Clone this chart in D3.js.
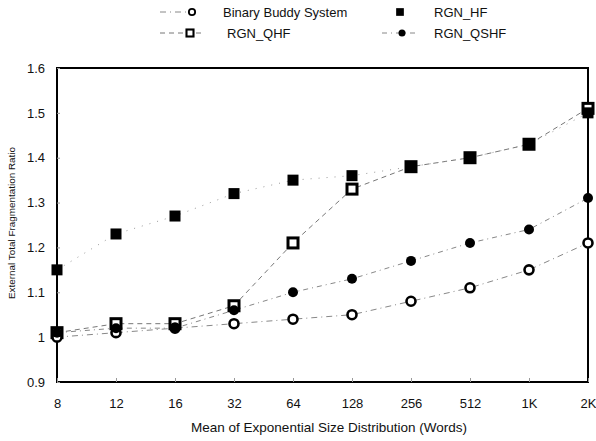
<!DOCTYPE html>
<html>
<head>
<meta charset="utf-8">
<script src="https://cdn.jsdelivr.net/npm/d3@7"></script>
<style>
  body { margin: 0; background: #fff; }
  text { font-family: "Liberation Sans", Arial, sans-serif; fill: #111; }
</style>
</head>
<body>
<div id="chart"></div>
<script>
"use strict";
// chart data
const sizes = ["8", "12", "16", "32", "64", "128", "256", "512", "1K", "2K"];
const yTicks = [0.9, 1, 1.1, 1.2, 1.3, 1.4, 1.5, 1.6];
const buddy = [1.00, 1.01, 1.02, 1.03, 1.04, 1.05, 1.08, 1.11, 1.15, 1.21];
const rgnHF = [1.15, 1.23, 1.27, 1.32, 1.35, 1.36, 1.38, 1.40, 1.43, 1.50];
const rgnQHF = [1.01, 1.03, 1.03, 1.07, 1.21, 1.33, 1.38, 1.40, 1.43, 1.51];
const rgnQSHF = [1.01, 1.02, 1.02, 1.06, 1.10, 1.13, 1.17, 1.21, 1.24, 1.31];

const W = 596, H = 441;
const m = {left: 57, right: 8, top: 68, bottom: 59};

var svg = d3.select("#chart").append("svg")
  .attr("width", W).attr("height", H);

var x = d3.scalePoint().domain(sizes).range([m.left, W - m.right]);
var y = d3.scaleLinear().domain([0.9, 1.6]).range([H - m.bottom, m.top]);

// series in draw order (open square first so filled ones sit on top)
var series = [
  {name: "RGN_QHF", values: rgnQHF, mark: "osq", dash: "5,4", color: "#777"},
  {name: "Binary Buddy System", values: buddy, mark: "ocirc", dash: "6,4,1,4", color: "#888"},
  {name: "RGN_HF", values: rgnHF, mark: "fsq", dash: "1,7", color: "#999"},
  {name: "RGN_QSHF", values: rgnQSHF, mark: "fcirc", dash: "5,4,1,4", color: "#888"}
];

// k scales the marker (legend uses smaller ones)
function drawMark(g, type, cx, cy, k) {
  k = k || 1;
  if (type === "fsq") {
    g.append("rect").attr("x", cx - 5.5 * k).attr("y", cy - 5.5 * k)
      .attr("width", 11 * k).attr("height", 11 * k).attr("fill", "#000");
  } else if (type === "osq") {
    g.append("rect").attr("x", cx - 5 * k).attr("y", cy - 5 * k)
      .attr("width", 10 * k).attr("height", 10 * k)
      .attr("fill", "#fff").attr("stroke", "#000").attr("stroke-width", 3 * k);
  } else if (type === "ocirc") {
    g.append("circle").attr("cx", cx).attr("cy", cy).attr("r", 4.5 * k)
      .attr("fill", "#fff").attr("stroke", "#000").attr("stroke-width", 2.6 * k);
  } else {
    g.append("circle").attr("cx", cx).attr("cy", cy).attr("r", 5 * k)
      .attr("fill", "#000");
  }
}

var line = d3.line()
  .x(function(d, i) { return x(sizes[i]); })
  .y(function(d) { return y(d); });

// connecting lines
series.forEach(function(s) {
  svg.append("path")
    .datum(s.values)
    .attr("d", line)
    .attr("fill", "none")
    .attr("stroke", s.color)
    .attr("stroke-width", 1)
    .attr("stroke-dasharray", s.dash);
});

// frame
svg.append("rect")
  .attr("x", m.left).attr("y", m.top)
  .attr("width", W - m.left - m.right).attr("height", H - m.top - m.bottom)
  .attr("fill", "none").attr("stroke", "#000").attr("stroke-width", 2);

// axes: ticks inside the frame
var xAxis = svg.append("g")
  .attr("transform", "translate(0," + (H - m.bottom) + ")")
  .call(d3.axisBottom(x).tickSizeInner(-4).tickSizeOuter(0).tickPadding(17));
xAxis.select(".domain").remove();
xAxis.selectAll("text").style("font-size", "13px");

var yAxis = svg.append("g")
  .attr("transform", "translate(" + m.left + ",0)")
  .call(d3.axisLeft(y).tickValues(yTicks).tickSizeInner(-3).tickSizeOuter(0)
    .tickPadding(12).tickFormat(function(d) { return d3.format("")(+d.toFixed(1)); }));
yAxis.select(".domain").remove();
yAxis.selectAll("text").style("font-size", "13px");
yAxis.selectAll("line").attr("stroke", "#999");
xAxis.selectAll("line").attr("stroke", "#999");

// markers
series.forEach(function(s) {
  var g = svg.append("g");
  s.values.forEach(function(v, i) { drawMark(g, s.mark, x(sizes[i]), y(v)); });
});

// axis titles
svg.append("text")
  .attr("x", 329).attr("y", 432)
  .attr("text-anchor", "middle").style("font-size", "13.5px")
  .text("Mean of Exponential Size Distribution (Words)");

svg.append("text")
  .attr("transform", "translate(15," + ((m.top + H - m.bottom) / 2 - 2) + ") rotate(-90)")
  .attr("text-anchor", "middle").style("font-size", "9px")
  .attr("textLength", 152).attr("lengthAdjust", "spacingAndGlyphs")
  .text("External Total Fragmentation Ratio");

// legend
var legend = [
  {s: series[1], lx: 160, lx2: 190, mx: 192, tx: 223, ty: 17},
  {s: series[2], lx: null, mx: 400, tx: 434, ty: 17},
  {s: series[0], lx: 160, lx2: 205, mx: 190, tx: 227, ty: 38},
  {s: series[3], lx: 382, lx2: 416, mx: 402, tx: 434, ty: 38}
];
legend.forEach(function(l) {
  var g = svg.append("g");
  if (l.lx !== null) {
    g.append("line").attr("x1", l.lx).attr("x2", l.lx2)
      .attr("y1", l.ty - 5).attr("y2", l.ty - 5)
      .attr("stroke", l.s.color).attr("stroke-width", 1)
      .attr("stroke-dasharray", l.s.dash);
  }
  drawMark(g, l.s.mark, l.mx, l.ty - 5, 0.7);
  g.append("text").attr("x", l.tx).attr("y", l.ty)
    .style("font-size", "13px").text(l.s.name);
});
</script>
</body>
</html>
